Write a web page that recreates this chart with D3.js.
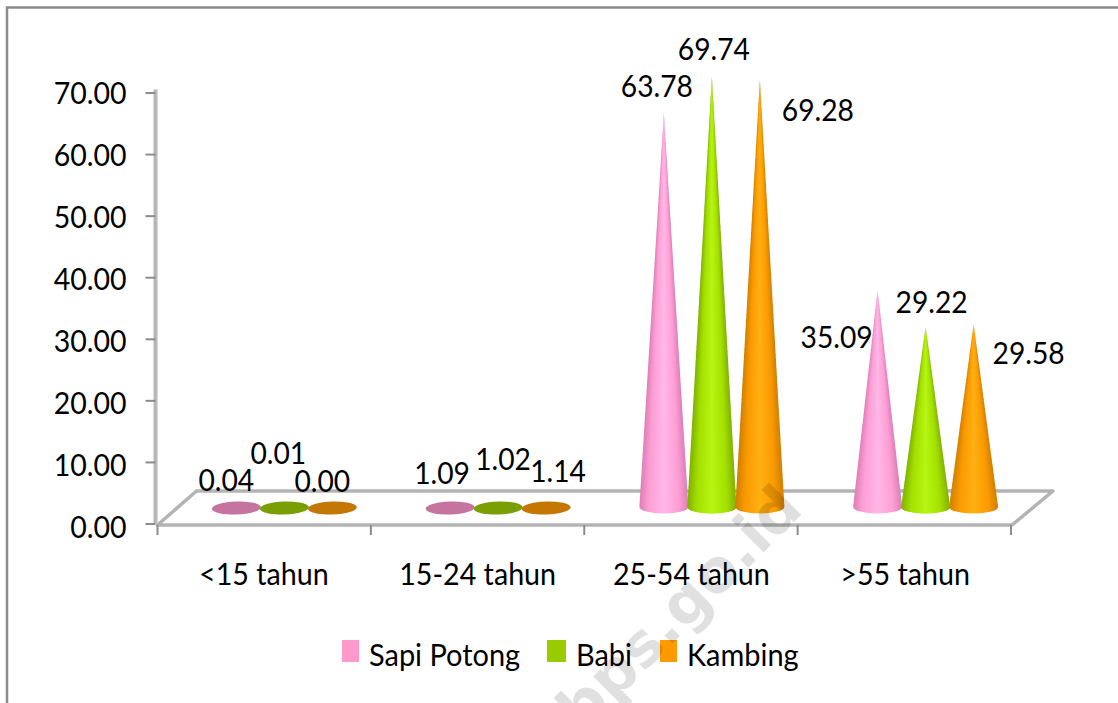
<!DOCTYPE html>
<html>
<head>
<meta charset="utf-8">
<script src="https://cdn.jsdelivr.net/npm/d3@7"></script>
<style>
html,body{margin:0;padding:0;background:#fff}
svg{display:block}
text{font-family:Lato,"Open Sans",sans-serif;fill:#000}
</style>
</head>
<body>
<svg id="chart" width="1118" height="703"></svg>
<script>
const categories = ["<15 tahun", "15-24 tahun", "25-54 tahun", ">55 tahun"];
const seriesNames = ["Sapi Potong", "Babi", "Kambing"];
const sapiPotong = [0.04, 1.09, 63.78, 35.09];
const babi = [0.01, 1.02, 69.74, 29.22];
const kambing = [0.00, 1.14, 69.28, 29.58];
const yTicks = [0, 10, 20, 30, 40, 50, 60, 70];

// Offsets of each data label from its cone's apex, one row per series
const labelNudges = [
  [[-10, -26], [-8, -27], [-7, -27], [-41, 47]],
  [[-6, -53], [5, -41], [2, -27], [6, -24]],
  [[-10, -26], [12, -28], [58, 31], [55, 29]]
];

const coneColors = [
  {edge: "#dc7fb6", body: "#ff9fd6", mid: "#ffb8e8", flat: "#c4749f"},
  {edge: "#7fb000", body: "#a4e000", mid: "#b6f612", flat: "#7a9f04"},
  {edge: "#cf7f00", body: "#fb9a00", mid: "#ffb012", flat: "#c47702"}
];
const swatchColors = ["#ff99cc", "#99cc00", "#ff9900"];

const svg = d3.select("#chart");
const FS = 30;

// Narrows a text selection horizontally, keeping its height
const condense = (sel, k) => sel.each(function () {
  this.setAttribute("textLength", this.getComputedTextLength() * k);
  this.setAttribute("lengthAdjust", "spacingAndGlyphs");
});

const y = d3.scaleLinear().domain([0, 70]).range([523.5, 92.5]);
const yLabel = d3.scaleLinear().domain([0, 70]).range([528, 94]);
// Cones stand mid-way across the floor, so their scale is shifted into depth
const coneY = d3.scaleLinear().domain([0, 70]).range([507, 75]);
const x = d3.scaleBand().domain(categories).range([157.5, 1011]);
const coneBand = x.copy().range([159, 1014]);
const seriesOffset = d3.scalePoint().domain(seriesNames).range([-48, 48]);
const depthShift = 18.5;

// Outer frame around the chart area
svg.append("path")
  .attr("d", "M7,703V7.5H1118")
  .attr("fill", "none").attr("stroke", "#8c8c8c").attr("stroke-width", 2.5);

// Horizontal shading shared by every slice of a cone
const defs = svg.append("defs");
coneColors.forEach((c, i) => {
  const g = defs.append("linearGradient").attr("id", "cone" + i);
  [[0, c.edge], [0.2, c.body], [0.5, c.mid], [0.8, c.body], [1, c.edge]].forEach(([o, col]) =>
    g.append("stop").attr("offset", o).attr("stop-color", col));
});

// Floor of the 3D plot and the left wall line
const floorInset = 39, floorBack = 34;
const x0 = x.range()[0], x1 = x.range()[1], yBase = y(0) + 1.5;
svg.append("path")
  .attr("d", `M${x0},${yBase}L${x0 + floorInset},${yBase - floorBack}L${x1 + floorInset + 3},${yBase - floorBack}L${x1 + 1},${yBase}Z`)
  .attr("fill", "#fff").attr("stroke", "#b4b4b4").attr("stroke-width", 3.5).attr("stroke-linejoin", "round");
svg.append("line")
  .attr("x1", x0 - 2).attr("x2", x0 - 2).attr("y1", y(70) - 3).attr("y2", y(0))
  .attr("stroke", "#b8b8b8").attr("stroke-width", 4);

// Value axis; its labels sit on their own slightly wider spacing
const yAxis = d3.axisLeft(y).tickValues(yTicks).tickSize(10).tickPadding(19).tickFormat(d3.format(".2f"));
const gy = svg.append("g").attr("transform", `translate(${x0 - 2},0)`).call(yAxis);
gy.select(".domain").remove();
gy.selectAll(".tick line").attr("stroke", "#8c8c8c").attr("stroke-width", 2);
gy.selectAll("text")
  .attr("font-size", FS).style("font-family", "Lato").attr("fill", "#000")
  .attr("y", d => yLabel(d) - y(d))
  .call(condense, 0.95);

// Category axis: ticks at the band edges, labels centred in each band
const bandEdges = categories.map(c => x(c)).concat(x1);
svg.append("g").selectAll("line").data(bandEdges).join("line")
  .attr("x1", d => d).attr("x2", d => d).attr("y1", yBase).attr("y2", yBase + 10)
  .attr("stroke", "#8c8c8c").attr("stroke-width", 2);
svg.append("g").selectAll("text").data(categories).join("text")
  .attr("x", d => coneBand(d) + coneBand.bandwidth() / 2 - 2)
  .attr("y", 585)
  .attr("text-anchor", "middle")
  .attr("font-size", FS)
  .text(d => d)
  .call(condense, 0.955);

// Cones: stacked horizontal slices, each shaded across its own width so the
// round shading runs up to the point. Near-zero values show only the dark cap.
const rx = 24.5, ry = 6.5, sliceHeight = 5;
const series = [sapiPotong, babi, kambing];
const coneX = (cat, name) => coneBand(cat) + coneBand.bandwidth() / 2 + depthShift + seriesOffset(name);

series.forEach((values, s) => {
  const name = seriesNames[s];
  const c = coneColors[s];
  values.forEach((v, i) => {
    const cx = coneX(categories[i], name), by = coneY(0), tip = coneY(v);
    if (v < 2) {
      svg.append("ellipse")
        .attr("cx", cx).attr("cy", by + 1).attr("rx", rx).attr("ry", ry)
        .attr("fill", c.flat)
        .attr("transform", `rotate(-2 ${cx} ${by})`);
      return;
    }
    const halfWidth = yy => rx * (yy - tip) / (by - tip);
    const tops = d3.range(tip, by, sliceHeight);
    svg.append("g").selectAll("path").data(tops).join("path")
      .attr("d", top => {
        const bot = Math.min(top + sliceHeight + 0.6, by);
        const a = halfWidth(top), b = halfWidth(bot);
        const foot = bot >= by ? `A${rx},${ry} 0 0 1 ${cx - b},${bot}` : `L${cx - b},${bot}`;
        return `M${cx - a},${top}L${cx + a},${top}L${cx + b},${bot}${foot}Z`;
      })
      .attr("fill", `url(#cone${s})`);
  });
});

// Data labels
series.forEach((values, s) => {
  const name = seriesNames[s];
  svg.append("g").selectAll("text").data(values).join("text")
    .attr("x", (v, i) => coneX(categories[i], name) + labelNudges[s][i][0])
    .attr("y", (v, i) => coneY(v) + labelNudges[s][i][1])
    .attr("dy", "0.35em")
    .attr("text-anchor", "middle")
    .attr("font-size", FS)
    .text(v => v.toFixed(2))
    .call(condense, 0.94);
});

// Legend
const legendSwatchX = d3.scaleOrdinal().domain(seriesNames).range([342, 547, 660]);
const legend = svg.append("g").selectAll("g").data(seriesNames).join("g")
  .attr("transform", d => `translate(${legendSwatchX(d)},640)`);
legend.append("rect").attr("width", (d, i) => i === 1 ? 19 : 17).attr("height", 22).attr("fill", (d, i) => swatchColors[i]);
legend.append("text").attr("x", (d, i) => i === 1 ? 29 : 27).attr("y", 26).attr("font-size", FS).text(d => d)
  .call(condense, 0.965);

// Source watermark laid across the lower part of the chart
svg.append("text")
  .attr("transform", "translate(805,511) rotate(-45)")
  .attr("text-anchor", "end")
  .attr("font-size", 60)
  .attr("font-weight", 700)
  .style("font-family", "'DejaVu Sans',sans-serif")
  .style("fill", "#000")
  .attr("fill-opacity", 0.12)
  .text("bps.go.id");
</script>
</body>
</html>
